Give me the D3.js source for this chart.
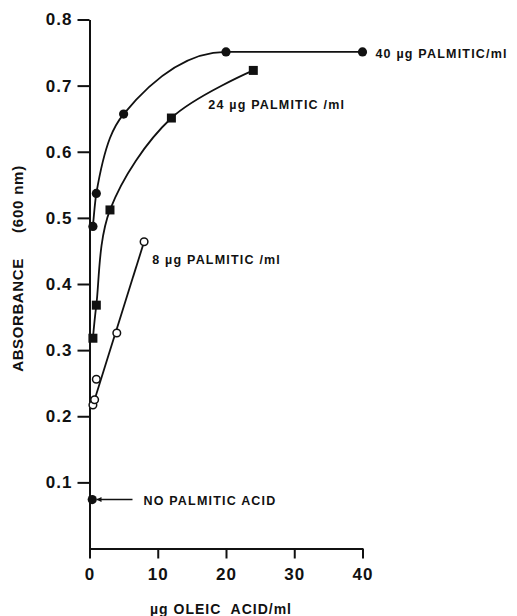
<!DOCTYPE html>
<html>
<head>
<meta charset="utf-8">
<script src="https://cdn.jsdelivr.net/npm/d3@7"></script>
<style>
  html, body { margin: 0; padding: 0; background: #fff; }
  svg text { font-family: "Liberation Sans", Arial, sans-serif; font-weight: bold; fill: #111; }
</style>
</head>
<body>
<div id="chart"></div>
<script>
// absorbance vs oleic acid, one series per palmitic acid level
const oleic40 = [0.5, 1, 5, 20, 40];
const abs40 = [0.487, 0.537, 0.657, 0.751, 0.751];

const oleic24 = [0.5, 1, 3, 12, 24];
const abs24 = [0.318, 0.368, 0.512, 0.651, 0.723];

const oleic8 = [0.5, 0.75, 1, 4, 8];
const abs8 = [0.217, 0.225, 0.256, 0.326, 0.464];

const oleic0 = [0.4];
const abs0 = [0.074];

const xTicks = [0, 10, 20, 30, 40];
const yTicks = [0.1, 0.2, 0.3, 0.4, 0.5, 0.6, 0.7, 0.8];

const width = 517, height = 616;

const svg = d3.select('#chart').append('svg')
  .attr('width', width)
  .attr('height', height);

const x = d3.scaleLinear().domain([0, 40]).range([89.5, 362.5]);
const y = d3.scaleLinear().domain([0, 0.8]).range([548.5, 19.5]);

const zip = (xs, ys) => xs.map((v, i) => ({ x: v, y: ys[i] }));
const s40 = zip(oleic40, abs40);
const s24 = zip(oleic24, abs24);
const s8 = zip(oleic8, abs8);
const s0 = zip(oleic0, abs0);

// axes
const yAxis = svg.append('g')
  .attr('transform', `translate(${x(0)},0)`)
  .call(d3.axisLeft(y).tickValues(yTicks).tickFormat(d3.format('.1f')).tickSize(12).tickPadding(5).tickSizeOuter(0));
yAxis.select('.domain').attr('stroke', '#111').attr('stroke-width', 2);
yAxis.selectAll('.tick line').attr('stroke', '#111').attr('stroke-width', 2);
yAxis.selectAll('.tick text').style('font-size', '17px').style('letter-spacing', '1px').attr('fill', '#111');

const xAxis = svg.append('g')
  .attr('transform', `translate(0,${y(0)})`)
  .call(d3.axisBottom(x).tickValues(xTicks).tickSize(10).tickPadding(9).tickSizeOuter(0));
xAxis.select('.domain').attr('stroke', '#111').attr('stroke-width', 2);
xAxis.selectAll('.tick line').attr('stroke', '#111').attr('stroke-width', 2);
xAxis.selectAll('.tick text').style('font-size', '17px').style('letter-spacing', '1px').attr('fill', '#111');

// axis titles
svg.append('text')
  .attr('transform', `translate(23,315) rotate(-90)`)
  .attr('text-anchor', 'middle')
  .style('font-size', '15px')
  .style('letter-spacing', '0.6px')
  .text('ABSORBANCE');
svg.append('text')
  .attr('transform', `translate(23,199) rotate(-90)`)
  .attr('text-anchor', 'middle')
  .style('font-size', '15px')
  .style('letter-spacing', '0.8px')
  .text('(600 nm)');

svg.append('text')
  .attr('x', 221)
  .attr('y', 614)
  .attr('text-anchor', 'middle')
  .style('font-size', '14px')
  .style('letter-spacing', '1px')
  .style('white-space', 'pre')
  .text('\u00b5g OLEIC  ACID/ml');

// curves
const curve = d3.line().x(d => x(d.x)).y(d => y(d.y)).curve(d3.curveMonotoneX);
const smooth = d3.line().x(d => x(d.x)).y(d => y(d.y)).curve(d3.curveCatmullRom.alpha(0.5));
const straight = d3.line().x(d => x(d.x)).y(d => y(d.y));

svg.append('path').datum(s40)
  .attr('d', curve).attr('fill', 'none').attr('stroke', '#111').attr('stroke-width', 1.8);
svg.append('path').datum(s24)
  .attr('d', smooth).attr('fill', 'none').attr('stroke', '#111').attr('stroke-width', 1.8);
// 8 ug drawn as a straight line through first and last point
svg.append('path').datum([s8[0], s8[s8.length - 1]])
  .attr('d', straight).attr('fill', 'none').attr('stroke', '#111').attr('stroke-width', 1.8);

// markers
svg.selectAll('.c40').data(s40).enter().append('circle')
  .attr('class', 'c40')
  .attr('cx', d => x(d.x)).attr('cy', d => y(d.y))
  .attr('r', 4.6).attr('fill', '#111');

svg.selectAll('.sq24').data(s24).enter().append('rect')
  .attr('class', 'sq24')
  .attr('x', d => x(d.x) - 4.5).attr('y', d => y(d.y) - 4.5)
  .attr('width', 9).attr('height', 9).attr('fill', '#111');

svg.selectAll('.c8').data(s8).enter().append('circle')
  .attr('class', 'c8')
  .attr('cx', d => x(d.x)).attr('cy', d => y(d.y))
  .attr('r', 3.8).attr('fill', '#fff').attr('stroke', '#111').attr('stroke-width', 1.5);

svg.selectAll('.c0').data(s0).enter().append('circle')
  .attr('class', 'c0')
  .attr('cx', d => x(d.x)).attr('cy', d => y(d.y))
  .attr('r', 4.6).attr('fill', '#111');

// arrow pointing at the no-palmitic point
svg.append('defs').append('marker')
  .attr('id', 'arrow')
  .attr('viewBox', '0 0 10 10')
  .attr('refX', 9).attr('refY', 5)
  .attr('markerWidth', 7).attr('markerHeight', 5)
  .attr('markerUnits', 'userSpaceOnUse')
  .attr('orient', 'auto')
  .append('path').attr('d', 'M0,0 L10,5 L0,10 Z').attr('fill', '#111');

svg.append('line')
  .attr('x1', x(6.3)).attr('x2', x(1.1))
  .attr('y1', y(abs0[0])).attr('y2', y(abs0[0]))
  .attr('stroke', '#111').attr('stroke-width', 1.5)
  .attr('marker-end', 'url(#arrow)');

// series labels
const labels = [
  { x: 41.9, y: 0.748, text: '40 \u00b5g PALMITIC/ml' },
  { x: 17.4, y: 0.672, text: '24 \u00b5g PALMITIC /ml' },
  { x: 9.2, y: 0.437, text: '8 \u00b5g PALMITIC /ml' },
  { x: 7.9, y: 0.072, text: 'NO PALMITIC ACID' }
];

svg.selectAll('.lbl').data(labels).enter().append('text')
  .attr('class', 'lbl')
  .attr('x', d => x(d.x))
  .attr('y', d => y(d.y))
  .attr('dy', '0.36em')
  .style('font-size', '12.5px')
  .style('letter-spacing', '1.2px')
  .text(d => d.text);
</script>
</body>
</html>
